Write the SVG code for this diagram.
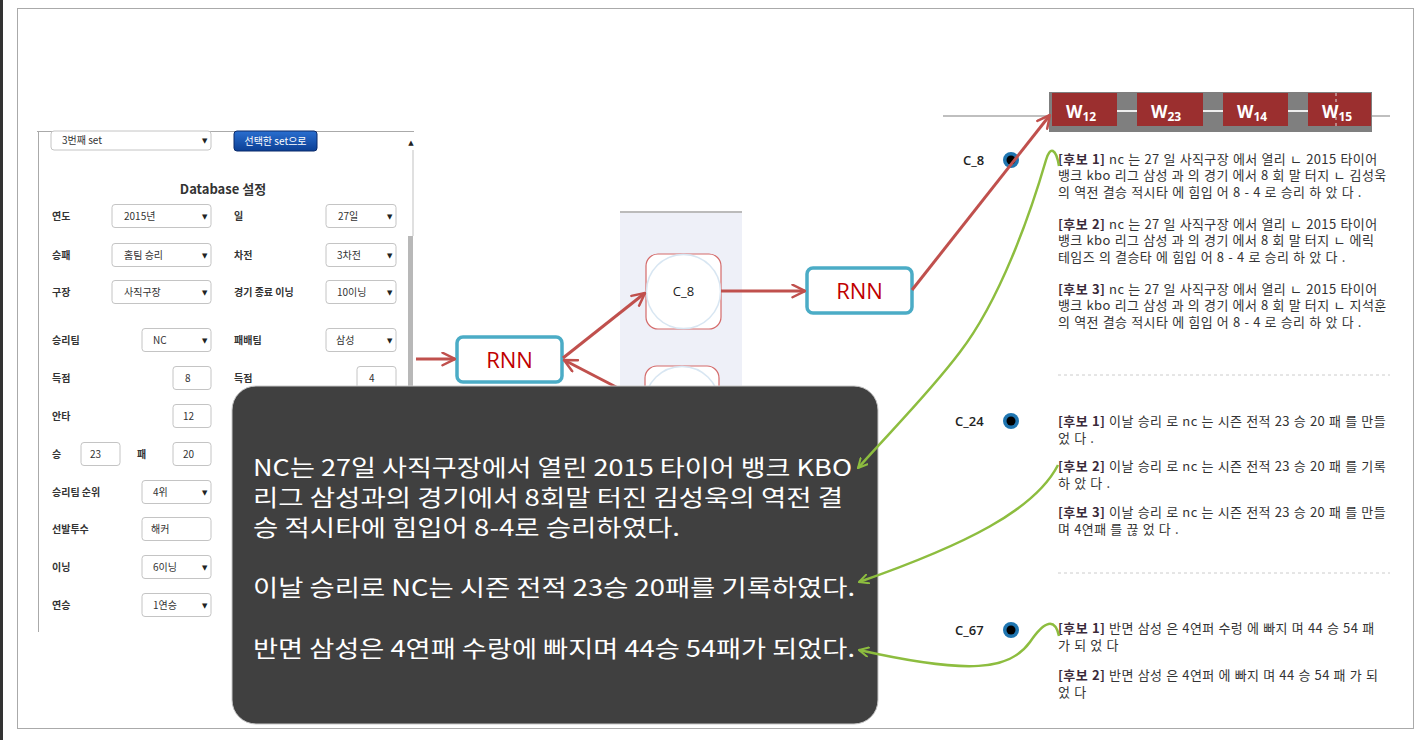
<svg xmlns="http://www.w3.org/2000/svg" width="1421" height="740" viewBox="0 0 1421 740">
<style>
.lbl{font-family:"Noto Sans CJK KR",sans-serif;font-size:10px;font-weight:bold;fill:#333}
.val{font-family:"Noto Sans CJK KR",sans-serif;font-size:10px;fill:#333}
.sel{fill:#fff;stroke:#c4c4c4;stroke-width:1}
.dd{font-family:"DejaVu Sans",sans-serif;font-size:7px;fill:#222}
.rnnbox{fill:#fff;stroke:#4bacc6;stroke-width:3.5}
.rnn{font-family:"Open Sans",sans-serif;font-size:22px;fill:#c00000;text-anchor:middle}
.cbox{fill:#fff;stroke:#d46a6a;stroke-width:1.2}
.ccirc{fill:none;stroke:#d8e6f2;stroke-width:1.5}
.red{stroke:#c0504d;stroke-width:3;fill:none}
.green{stroke:#8dbd3f;stroke-width:2.5;fill:none}
.big{font-family:"Noto Sans CJK KR",sans-serif;font-size:23px;fill:#fff}
.cand{font-family:"Noto Sans CJK KR",sans-serif;font-size:13px;letter-spacing:0.4px;word-spacing:0.5px;fill:#333}
.cand tspan.b{font-weight:bold;fill:#3a2a3a}
.clab{font-family:"Open Sans",sans-serif;font-size:13px;font-weight:600;fill:#222}
.wbox{fill:#9b2f2f}
.wt{font-family:"Open Sans",sans-serif;font-size:17px;font-weight:bold;fill:#fff}
.sep{stroke:#ccc;stroke-width:1;stroke-dasharray:3 3}
</style>
<defs>
<marker id="ar" viewBox="0 0 12 12" markerWidth="15" markerHeight="15" refX="11" refY="6" orient="auto" markerUnits="userSpaceOnUse">
<path d="M1,1 L11,6 L1,11" fill="none" stroke="#c0504d" stroke-width="2" stroke-linecap="round"/>
</marker>
<marker id="ag" viewBox="0 0 12 12" markerWidth="11" markerHeight="11" refX="11" refY="6" orient="auto" markerUnits="userSpaceOnUse">
<path d="M1,1 L11,6 L1,11" fill="none" stroke="#8dbd3f" stroke-width="2.2" stroke-linecap="round"/>
</marker>
<linearGradient id="btn" x1="0" y1="0" x2="0" y2="1">
<stop offset="0" stop-color="#2a6fd0"/><stop offset="1" stop-color="#0b3f95"/>
</linearGradient>
</defs>
<rect x="0" y="0" width="1421" height="740" fill="#fff"/>
<rect x="0" y="0" width="3" height="740" fill="#333"/>
<rect x="17.5" y="8.5" width="1396" height="720" fill="none" stroke="#aaa" stroke-width="1"/>

<g id="form">
<line x1="37" y1="131.5" x2="414" y2="131.5" stroke="#aaa"/>
<line x1="38.5" y1="131" x2="38.5" y2="632" stroke="#aaa"/>
<line x1="413" y1="150" x2="413" y2="236" stroke="#e0e0e0" stroke-width="2"/>
<rect x="408" y="236" width="5" height="160" fill="#b8b8b8"/>
<text x="411" y="145" class="dd" text-anchor="middle">▲</text>
<rect x="51" y="131" width="160" height="19" rx="3" class="sel"/>
<text x="62" y="144" class="val">3번째 set</text><text x="202" y="143" class="dd">▼</text>
<rect x="234" y="131" width="83" height="20" rx="3" fill="url(#btn)" stroke="#0a2a6a"/>
<text x="275.5" y="145" class="val" style="fill:#fff" text-anchor="middle">선택한 set으로</text>
<text x="223" y="194" class="lbl" style="font-size:13px" text-anchor="middle">Database 설정</text>

<text x="52" y="220" class="lbl">연도</text>
<rect x="112" y="204.5" width="99" height="23" rx="3" class="sel"/><text x="124" y="220" class="val">2015년</text><text x="202" y="219" class="dd">▼</text>
<text x="234" y="220" class="lbl">일</text>
<rect x="326" y="204.5" width="70" height="23" rx="3" class="sel"/><text x="338" y="220" class="val">27일</text><text x="387" y="219" class="dd">▼</text>

<text x="52" y="259" class="lbl">승패</text>
<rect x="112" y="243.5" width="99" height="23" rx="3" class="sel"/><text x="124" y="259" class="val">홈팀 승리</text><text x="202" y="258" class="dd">▼</text>
<text x="234" y="259" class="lbl">차전</text>
<rect x="326" y="243.5" width="70" height="23" rx="3" class="sel"/><text x="337" y="259" class="val">3차전</text><text x="387" y="258" class="dd">▼</text>

<text x="52" y="296" class="lbl">구장</text>
<rect x="112" y="280.5" width="99" height="23" rx="3" class="sel"/><text x="124" y="296" class="val">사직구장</text><text x="202" y="295" class="dd">▼</text>
<text x="234" y="296" class="lbl">경기 종료 이닝</text>
<rect x="326" y="280.5" width="70" height="23" rx="3" class="sel"/><text x="337" y="296" class="val">10이닝</text><text x="387" y="295" class="dd">▼</text>

<text x="52" y="344" class="lbl">승리팀</text>
<rect x="142" y="328.5" width="69" height="23" rx="3" class="sel"/><text x="153" y="344" class="val">NC</text><text x="202" y="343" class="dd">▼</text>
<text x="234" y="344" class="lbl">패배팀</text>
<rect x="326" y="328.5" width="70" height="23" rx="3" class="sel"/><text x="336" y="344" class="val">삼성</text><text x="387" y="343" class="dd">▼</text>

<text x="52" y="382" class="lbl">득점</text>
<rect x="173" y="366.5" width="38" height="23" rx="3" class="sel"/><text x="185" y="382" class="val">8</text>
<text x="234" y="382" class="lbl">득점</text>
<rect x="357" y="366.5" width="39" height="23" rx="3" class="sel"/><text x="369" y="382" class="val">4</text>

<text x="52" y="420" class="lbl">안타</text>
<rect x="173" y="404.5" width="38" height="23" rx="3" class="sel"/><text x="183" y="420" class="val">12</text>

<text x="52" y="458" class="lbl">승</text>
<rect x="81" y="442.5" width="39" height="23" rx="3" class="sel"/><text x="90" y="458" class="val">23</text>
<text x="137" y="458" class="lbl">패</text>
<rect x="173" y="442.5" width="38" height="23" rx="3" class="sel"/><text x="183" y="458" class="val">20</text>

<text x="52" y="496" class="lbl">승리팀 순위</text>
<rect x="142" y="480.5" width="69" height="23" rx="3" class="sel"/><text x="153" y="496" class="val">4위</text><text x="202" y="495" class="dd">▼</text>

<text x="52" y="533" class="lbl">선발투수</text>
<rect x="142" y="517.5" width="69" height="23" rx="3" class="sel"/><text x="151" y="533" class="val">해커</text>

<text x="52" y="571" class="lbl">이닝</text>
<rect x="142" y="555.5" width="69" height="23" rx="3" class="sel"/><text x="153" y="571" class="val">6이닝</text><text x="202" y="570" class="dd">▼</text>

<text x="52" y="609" class="lbl">연승</text>
<rect x="142" y="593.5" width="69" height="23" rx="3" class="sel"/><text x="153" y="609" class="val">1연승</text><text x="202" y="608" class="dd">▼</text>
</g>

<rect x="620" y="212" width="122" height="200" fill="#eef0f8"/>
<line x1="620" y1="212" x2="742" y2="212" stroke="#bbb" stroke-width="2"/>

<g id="c8box">
<rect x="646" y="254" width="75" height="75" rx="12" class="cbox"/>
<circle cx="683.5" cy="291.5" r="37" class="ccirc"/>
<text x="683.5" y="296" font-family="Open Sans, sans-serif" font-size="13" fill="#222" text-anchor="middle">C_8</text>
</g>
<g id="cbox2">
<rect x="645" y="366" width="74" height="75" rx="12" class="cbox"/>
<circle cx="682" cy="403.5" r="37" class="ccirc"/>
</g>
<g id="rnn1">
<rect x="457" y="337" width="105" height="45" rx="6" class="rnnbox"/>
<text x="509.5" y="367.5" class="rnn">RNN</text>
</g>
<g id="rnn2">
<rect x="807" y="268" width="105" height="45" rx="6" class="rnnbox"/>
<text x="859.5" y="298.5" class="rnn">RNN</text>
</g>

<g id="weights">
<line x1="943" y1="116" x2="1390" y2="116" stroke="#aaa" stroke-width="1.5"/>
<rect x="1049" y="92" width="323" height="40" fill="#7f7f7f"/>
<line x1="1117" y1="111" x2="1308" y2="111" stroke="#eee" stroke-width="2"/>
<rect x="1052" y="93" width="65" height="33" class="wbox"/>
<rect x="1137" y="93" width="66" height="33" class="wbox"/>
<rect x="1223" y="93" width="65" height="33" class="wbox"/>
<rect x="1308" y="93" width="63" height="33" class="wbox"/>
<line x1="1336" y1="93" x2="1336" y2="126" stroke="#ddd" stroke-dasharray="3 3"/>
<text x="1066" y="118" class="wt">W<tspan font-size="12" dy="3">12</tspan></text>
<text x="1151" y="118" class="wt">W<tspan font-size="12" dy="3">23</tspan></text>
<text x="1237" y="118" class="wt">W<tspan font-size="12" dy="3">14</tspan></text>
<text x="1322" y="118" class="wt">W<tspan font-size="12" dy="3">15</tspan></text>
</g>

<g id="candidates">
<text x="963" y="165" class="clab">C_8</text>
<circle cx="1011" cy="160" r="8" fill="#1f75b0"/><circle cx="1011" cy="160" r="4.5" fill="#000"/>
<text x="955" y="426" class="clab">C_24</text>
<circle cx="1011" cy="421" r="8" fill="#1f75b0"/><circle cx="1011" cy="421" r="4.5" fill="#000"/>
<text x="955" y="635" class="clab">C_67</text>
<circle cx="1011" cy="630" r="8" fill="#1f75b0"/><circle cx="1011" cy="630" r="4.5" fill="#000"/>

<text class="cand" x="1058" y="163.5"><tspan class="b">[후보 1]</tspan> nc 는 27 일 사직구장 에서 열리 ㄴ 2015 타이어</text>
<text class="cand" x="1058" y="180">뱅크 kbo 리그 삼성 과 의 경기 에서 8 회 말 터지 ㄴ 김성욱</text>
<text class="cand" x="1058" y="196.5">의 역전 결승 적시타 에 힘입 어 8 - 4 로 승리 하 았 다 .</text>
<text class="cand" x="1058" y="228.5"><tspan class="b">[후보 2]</tspan> nc 는 27 일 사직구장 에서 열리 ㄴ 2015 타이어</text>
<text class="cand" x="1058" y="245">뱅크 kbo 리그 삼성 과 의 경기 에서 8 회 말 터지 ㄴ 에릭</text>
<text class="cand" x="1058" y="261.5">테임즈 의 결승타 에 힘입 어 8 - 4 로 승리 하 았 다 .</text>
<text class="cand" x="1058" y="293.5"><tspan class="b">[후보 3]</tspan> nc 는 27 일 사직구장 에서 열리 ㄴ 2015 타이어</text>
<text class="cand" x="1058" y="310">뱅크 kbo 리그 삼성 과 의 경기 에서 8 회 말 터지 ㄴ 지석훈</text>
<text class="cand" x="1058" y="326.5">의 역전 결승 적시타 에 힘입 어 8 - 4 로 승리 하 았 다 .</text>
<line x1="1058" y1="375" x2="1390" y2="375" class="sep"/>
<text class="cand" x="1058" y="425.5"><tspan class="b">[후보 1]</tspan> 이날 승리 로 nc 는 시즌 전적 23 승 20 패 를 만들</text>
<text class="cand" x="1058" y="442.5">었 다 .</text>
<text class="cand" x="1058" y="470.5"><tspan class="b">[후보 2]</tspan> 이날 승리 로 nc 는 시즌 전적 23 승 20 패 를 기록</text>
<text class="cand" x="1058" y="487.5">하 았 다 .</text>
<text class="cand" x="1058" y="516.5"><tspan class="b">[후보 3]</tspan> 이날 승리 로 nc 는 시즌 전적 23 승 20 패 를 만들</text>
<text class="cand" x="1058" y="533.5">며 4연패 를 끊 었 다 .</text>
<line x1="1058" y1="573" x2="1390" y2="573" class="sep"/>
<text class="cand" x="1058" y="632.5"><tspan class="b">[후보 1]</tspan> 반면 삼성 은 4연퍼 수렁 에 빠지 며 44 승 54 패</text>
<text class="cand" x="1058" y="649.5">가 되 었 다</text>
<text class="cand" x="1058" y="679.5"><tspan class="b">[후보 2]</tspan> 반면 삼성 은 4연퍼 에 빠지 며 44 승 54 패 가 되</text>
<text class="cand" x="1058" y="696.5">었 다</text>
</g>

<g id="connectors">
<line x1="416" y1="359" x2="455" y2="359" class="red" marker-end="url(#ar)"/>
<line x1="563" y1="358" x2="645" y2="293" class="red" marker-end="url(#ar)"/>
<line x1="645" y1="402" x2="564" y2="360" class="red" marker-end="url(#ar)"/>
<line x1="721" y1="291" x2="805" y2="291" class="red" marker-end="url(#ar)"/>
<line x1="912" y1="290" x2="1050" y2="115" class="red" marker-end="url(#ar)"/>
</g>

<g id="summary">
<rect x="232" y="386" width="646" height="338" rx="24" fill="#404040" stroke="#c8c8c8" stroke-width="1"/>
<text class="big" x="253" y="476" textLength="599" lengthAdjust="spacingAndGlyphs">NC는 27일 사직구장에서 열린 2015 타이어 뱅크 KBO</text>
<text class="big" x="253" y="506" textLength="590" lengthAdjust="spacingAndGlyphs">리그 삼성과의 경기에서 8회말 터진 김성욱의 역전 결</text>
<text class="big" x="253" y="536" textLength="427" lengthAdjust="spacingAndGlyphs">승 적시타에 힘입어 8-4로 승리하였다.</text>
<text class="big" x="253" y="596" textLength="602" lengthAdjust="spacingAndGlyphs">이날 승리로 NC는 시즌 전적 23승 20패를 기록하였다.</text>
<text class="big" x="253" y="657" textLength="602" lengthAdjust="spacingAndGlyphs">반면 삼성은 4연패 수랑에 빠지며 44승 54패가 되었다.</text>
</g>

<g id="links">
<path d="M1059,166 C1056,148 1050,146 1046,160 C1030,215 1000,300 960,352 C930,392 890,432 858,468" class="green" marker-end="url(#ag)"/>
<path d="M1058,465 C1035,510 965,545 859,582" class="green" marker-end="url(#ag)"/>
<path d="M1059,636 C1055,618 1045,620 1030,642 C1010,670 970,675 859,650" class="green" marker-end="url(#ag)"/>
</g>
</svg>
